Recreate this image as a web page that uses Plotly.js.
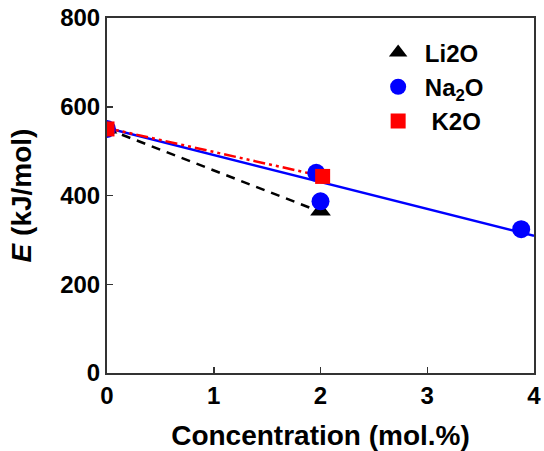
<!DOCTYPE html>
<html>
<head>
<meta charset="utf-8">
<script src="https://cdn.plot.ly/plotly-3.0.1.min.js"></script>
<style>html,body{margin:0;padding:0;background:#fff;}#chart{width:544px;height:451px;}</style>
</head>
<body>
<div id="chart"></div>
<script>
// Data points
const liX = [0, 2.0];
const liY = [550, 365];
const naX = [0, 1.96, 2.0, 3.88];
const naY = [550, 451, 387, 324];
const kX = [0, 2.02];
const kY = [550, 443];
// Trend lines
const liLineX = [0, 1.97];
const liLineY = [550, 366];
const naLineX = [0, 4];
const naLineY = [552, 309];
const kLineX = [0, 1.97];
const kLineY = [552, 446];
const xTicks = [0, 1, 2, 3, 4];
const yTicks = [0, 200, 400, 600, 800];

const font = {family: 'Liberation Sans, Arial, sans-serif', color: '#000'};

const traces = [
  {x: liLineX, y: liLineY, mode: 'lines', line: {color: '#000', width: 2.5, dash: '9px,7px'}, showlegend: false, hoverinfo: 'skip'},
  {x: naLineX, y: naLineY, mode: 'lines', line: {color: '#0000ff', width: 2.5}, showlegend: false, hoverinfo: 'skip'},
  {x: kLineX, y: kLineY, mode: 'lines', line: {color: '#ff0000', width: 2.5, dash: '12px,4px,3px,4px,3px,4px'}, showlegend: false, hoverinfo: 'skip'},
  {x: liX, y: liY, mode: 'markers', name: '<b>\u00A0Li2O</b>', legendgroup: 'a',
   marker: {symbol: 'triangle-up', size: 18, color: '#000'}},
  {x: naX, y: naY, mode: 'markers', name: '<b>\u00A0Na<sub>2</sub>O</b>', legendgroup: 'b',
   marker: {symbol: 'circle', size: 18, color: '#0000ff'}},
  {x: kX, y: kY, mode: 'markers', name: '<b>\u00A0\u00A0K2O</b>', legendgroup: 'c',
   marker: {symbol: 'square', size: 15, color: '#ff0000'}}
];

const axisCommon = {
  showline: true, mirror: true, linecolor: '#333', linewidth: 2,
  ticks: 'inside', ticklen: 6, tickwidth: 1.5, tickcolor: '#333',
  showgrid: false, zeroline: false,
  tickfont: Object.assign({size: 24, weight: 'bold'}, font)
};

const layout = {
  width: 544, height: 451,
  margin: {l: 107, r: 10, t: 18, b: 78},
  paper_bgcolor: '#fff', plot_bgcolor: '#fff',
  showlegend: true,
  legend: {x: 0.635, y: 0.965, xanchor: 'left', yanchor: 'top', bgcolor: 'rgba(0,0,0,0)',
           font: Object.assign({size: 24, weight: 'bold'}, font), tracegroupgap: 0, itemwidth: 30},
  xaxis: Object.assign({}, axisCommon, {
    range: [0, 4], tickvals: xTicks, ticktext: xTicks.map(String),
    title: {text: '<b>Concentration (mol.%)</b>', font: Object.assign({size: 28}, font), standoff: 21}
  }),
  yaxis: Object.assign({}, axisCommon, {
    range: [0, 800], tickvals: yTicks, ticktext: yTicks.map(String),
    title: {text: '<b><i>E</i> (kJ/mol)</b>', font: Object.assign({size: 28}, font), standoff: 20}
  })
};

Plotly.newPlot('chart', traces, layout, {displayModeBar: false, staticPlot: true});
</script>
</body>
</html>
